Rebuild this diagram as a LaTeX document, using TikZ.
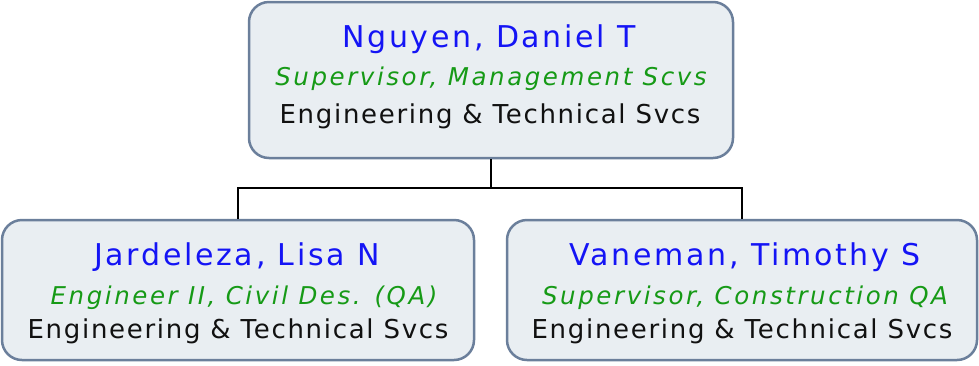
\documentclass[tikz,border=0pt]{standalone}
\usepackage{fontspec}
\setmainfont{DejaVu Sans}[LetterSpace=6.5]
\newfontfamily\namefont{DejaVu Sans}[LetterSpace=9]
\newfontfamily\titlefont{DejaVu Sans}[LetterSpace=10.5]
\definecolor{boxfill}{HTML}{E9EEF2}
\definecolor{boxline}{HTML}{6B7F9B}
\definecolor{nameblue}{HTML}{1414F5}
\definecolor{titlegreen}{HTML}{169A16}
\definecolor{depttext}{HTML}{111111}
\tikzset{
  person/.style={draw=boxline, fill=boxfill, line width=2.5pt, rounded corners=20pt, inner sep=0pt},
  nametext/.style={anchor=base, text=nameblue, font=\namefont\fontsize{30}{34}\selectfont, inner sep=0pt},
  titletext/.style={anchor=base, text=titlegreen, font=\titlefont\fontsize{24.5}{28}\selectfont\itshape, inner sep=0pt},
  depttext/.style={anchor=base, text=depttext, font=\fontsize{26}{30}\selectfont, inner sep=0pt},
  conn/.style={draw=black, line width=2pt}
}
\begin{document}
\begin{tikzpicture}[x=1pt,y=-1pt]
\useasboundingbox (0,0) rectangle (979,365);
\node[person, minimum width=484pt, minimum height=156pt] (top) at (491,80) {};
\node[person, minimum width=472pt, minimum height=140pt] (left) at (238,290) {};
\node[person, minimum width=470pt, minimum height=140pt] (right) at (742,290) {};
\coordinate (j) at (491,188);
\draw[conn] (top.south) -- (j);
\draw[conn] (left.north) |- (j) -| (right.north);
\node[nametext] (n1) at (489,47) {Nguyen, Daniel T};
\node[titletext] (t1) at (491,85) {Supervisor, Management Scvs};
\node[depttext] (d1) at (490,123) {Engineering \& Technical Svcs};
\node[nametext] (n2) at (237,265) {Jardeleza, Lisa N};
\node[titletext] (t2) at (244,304) {Engineer II, Civil Des. (QA)};
\node[depttext] (d2) at (238,338) {Engineering \& Technical Svcs};
\node[nametext] (n3) at (745,265) {Vaneman, Timothy S};
\node[titletext] (t3) at (745,304) {Supervisor, Construction QA};
\node[depttext] (d3) at (742,338) {Engineering \& Technical Svcs};
\end{tikzpicture}
\end{document}
